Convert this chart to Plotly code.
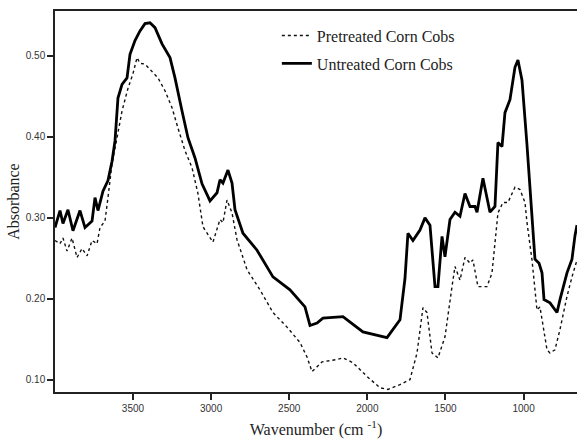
"""FTIR spectra of pretreated vs untreated corn cobs."""

import plotly.graph_objects as go

# wavenumber (cm-1) and absorbance
untreated_wn = [
    3999, 3967, 3948, 3916, 3884, 3839, 3807, 3762, 3743, 3724, 3692, 3660,
    3634, 3615, 3596, 3570, 3538, 3519, 3487, 3455, 3423, 3391, 3359, 3314,
    3263, 3231, 3186, 3148, 3103, 3058, 3007, 2962, 2943, 2924, 2892, 2866,
    2847, 2796, 2706, 2604, 2495, 2399, 2367, 2322, 2284, 2239, 2156, 2028,
    1874, 1791, 1759, 1740, 1708, 1663, 1631, 1599, 1567, 1548, 1522, 1503,
    1471, 1439, 1407, 1375, 1343, 1311, 1298, 1260, 1215, 1183, 1164, 1138,
    1119, 1087, 1055, 1036, 1010, 978, 946, 927, 901, 882, 869, 831, 786,
    767, 722, 690, 671, 658,
]
untreated_abs = [
    0.288, 0.309, 0.293, 0.310, 0.284, 0.309, 0.288, 0.296, 0.325, 0.309, 0.333, 0.346,
    0.370, 0.395, 0.448, 0.465, 0.473, 0.502, 0.519, 0.531, 0.540, 0.541, 0.535, 0.515,
    0.498, 0.473, 0.432, 0.399, 0.374, 0.342, 0.321, 0.331, 0.347, 0.343, 0.359, 0.343,
    0.310, 0.281, 0.260, 0.227, 0.211, 0.190, 0.167, 0.170, 0.176, 0.177, 0.178, 0.159,
    0.152, 0.174, 0.225, 0.281, 0.272, 0.285, 0.300, 0.291, 0.215, 0.215, 0.277, 0.252,
    0.298, 0.307, 0.302, 0.330, 0.314, 0.314, 0.307, 0.349, 0.307, 0.314, 0.393, 0.388,
    0.430, 0.446, 0.486, 0.495, 0.470, 0.390, 0.301, 0.249, 0.244, 0.232, 0.199, 0.195,
    0.183, 0.199, 0.232, 0.249, 0.278, 0.291,
]

pretreated_wn = [
    3999, 3967, 3948, 3922, 3890, 3858, 3826, 3794, 3762, 3730, 3711, 3679,
    3660, 3634, 3602, 3570, 3532, 3500, 3474, 3455, 3423, 3378, 3340, 3295,
    3250, 3212, 3167, 3122, 3084, 3052, 2988, 2943, 2924, 2898, 2866, 2834,
    2770, 2687, 2604, 2514, 2431, 2386, 2354, 2322, 2290, 2194, 2156, 2092,
    2002, 1919, 1868, 1791, 1727, 1682, 1644, 1618, 1586, 1548, 1503, 1458,
    1439, 1407, 1375, 1343, 1324, 1292, 1234, 1202, 1164, 1132, 1100, 1055,
    1023, 991, 978, 946, 914, 895, 869, 850, 831, 799, 767, 722, 690, 658,
]
pretreated_abs = [
    0.272, 0.268, 0.275, 0.259, 0.275, 0.251, 0.262, 0.253, 0.272, 0.268, 0.288, 0.296,
    0.325, 0.367, 0.399, 0.432, 0.460, 0.478, 0.498, 0.491, 0.490, 0.481, 0.473, 0.457,
    0.436, 0.411, 0.383, 0.362, 0.330, 0.289, 0.270, 0.298, 0.294, 0.322, 0.306, 0.273,
    0.236, 0.211, 0.183, 0.165, 0.146, 0.128, 0.110, 0.116, 0.122, 0.125, 0.127, 0.121,
    0.104, 0.090, 0.088, 0.094, 0.100, 0.133, 0.189, 0.183, 0.133, 0.127, 0.153, 0.215,
    0.240, 0.223, 0.251, 0.244, 0.248, 0.215, 0.215, 0.232, 0.306, 0.319, 0.319, 0.338,
    0.335, 0.319, 0.294, 0.248, 0.186, 0.190, 0.162, 0.137, 0.133, 0.137, 0.162, 0.203,
    0.227, 0.248,
]

x_ticks = [3500, 3000, 2500, 2000, 1500, 1000]
y_ticks = [0.10, 0.20, 0.30, 0.40, 0.50]

serif = "Liberation Serif, Times New Roman, serif"
sans = "Liberation Sans, Arial, sans-serif"

fig = go.Figure()
fig.add_trace(
    go.Scatter(
        x=pretreated_wn,
        y=pretreated_abs,
        mode="lines",
        name="Pretreated Corn Cobs",
        legendgroup="pre",
        line=dict(color="#111111", width=1.4, dash="3px,3px"),
    )
)
fig.add_trace(
    go.Scatter(
        x=untreated_wn,
        y=untreated_abs,
        mode="lines",
        name="Untreated Corn Cobs",
        legendgroup="un",
        line=dict(color="#000000", width=2.8),
    )
)

fig.update_layout(
    width=577,
    height=442,
    margin=dict(l=55, r=0, t=11, b=50),
    plot_bgcolor="white",
    paper_bgcolor="white",
    showlegend=True,
    legend=dict(
        x=0.425,
        y=0.98,
        xanchor="left",
        yanchor="top",
        font=dict(family=serif, size=16, color="#222222"),
        bgcolor="rgba(0,0,0,0)",
        tracegroupgap=4,
        traceorder="grouped",
    ),
    xaxis=dict(
        range=[3999, 658],
        tickvals=x_ticks,
        ticktext=[str(v) for v in x_ticks],
        ticks="outside",
        ticklen=6,
        tickwidth=1.5,
        tickcolor="#222222",
        tickfont=dict(family=sans, size=10, color="#333333"),
        showline=True,
        linecolor="#222222",
        linewidth=1.5,
        mirror=True,
        showgrid=False,
        zeroline=False,
        title=dict(
            text="Wavenumber (cm <sup>-1</sup>)",
            font=dict(family=serif, size=16, color="#222222"),
            standoff=11,
        ),
    ),
    yaxis=dict(
        range=[0.0848, 0.5556],
        tickvals=y_ticks,
        tickformat=".2f",
        ticks="outside",
        ticklen=6,
        tickwidth=1.5,
        tickcolor="#222222",
        tickfont=dict(family=sans, size=10, color="#333333"),
        showline=True,
        linecolor="#222222",
        linewidth=1.5,
        showgrid=False,
        zeroline=False,
        title=dict(
            text="Absorbance",
            font=dict(family=serif, size=16, color="#222222"),
            standoff=2,
        ),
    ),
)

# drop the browser's default 8px body margin so the figure fills the window
fig.write_html(
    "out.html",
    config={"displayModeBar": False},
    post_script="document.body.style.margin = '0';",
)
